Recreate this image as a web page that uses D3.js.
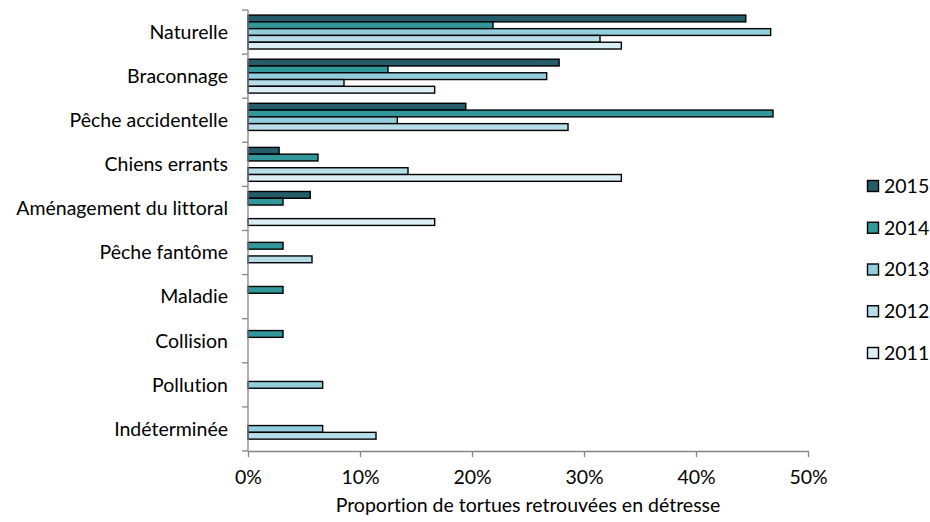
<!DOCTYPE html>
<html>
<head>
<meta charset="utf-8">
<script src="https://cdn.jsdelivr.net/npm/d3@7"></script>
<style>
  html, body { margin: 0; padding: 0; background: #fff; }
  svg { display: block; font-family: Lato, "Open Sans", sans-serif; font-variant-ligatures: none; }
</style>
</head>
<body>
<svg id="chart" width="930" height="522"></svg>
<script>
// Causes of distress, top to bottom
const categories = [
  "Naturelle", "Braconnage", "Pêche accidentelle", "Chiens errants",
  "Aménagement du littoral", "Pêche fantôme", "Maladie", "Collision",
  "Pollution", "Indéterminée"
];
// Years, drawn top to bottom inside each category
const years = ["2015", "2014", "2013", "2012", "2011"];
// Share of stranded turtles per cause (fraction), one array per year
const values2015 = [16/36, 10/36, 7/36, 1/36, 2/36, 0, 0, 0, 0, 0];
const values2014 = [7/32, 4/32, 15/32, 2/32, 1/32, 1/32, 1/32, 1/32, 0, 0];
const values2013 = [7/15, 4/15, 2/15, 0, 0, 0, 0, 0, 1/15, 1/15];
const values2012 = [11/35, 3/35, 10/35, 5/35, 0, 2/35, 0, 0, 0, 4/35];
const values2011 = [2/6, 1/6, 0, 2/6, 1/6, 0, 0, 0, 0, 0];
const xTicks = [0, 0.1, 0.2, 0.3, 0.4, 0.5];
const colors = ["#245c69", "#31979a", "#92cddc", "#b7dee8", "#daeef3"];

const seriesValues = [values2015, values2014, values2013, values2012, values2011];

const svg = d3.select("#chart");
const plotLeft = 248, plotRight = 808, plotTop = 10, plotBottom = 451;
const fontSize = 19.5;

const x = d3.scaleLinear().domain([0, 0.5]).range([plotLeft, plotRight]);
const y = d3.scaleBand().domain(categories).range([plotTop, plotBottom]).paddingInner(0).paddingOuter(0);
const inner = d3.scaleBand().domain(years).range([0, y.bandwidth()])
  .paddingInner(0).paddingOuter(0.75);

// Bars
const groups = svg.append("g").selectAll("g")
  .data(categories)
  .join("g")
  .attr("transform", d => `translate(0,${y(d)})`);

groups.selectAll("rect")
  .data((c, i) => years.map((yr, s) => ({ yr, s, v: seriesValues[s][i] })).filter(d => d.v > 0))
  .join("rect")
  .attr("x", x(0))
  .attr("y", d => inner(d.yr))
  .attr("width", d => x(d.v) - x(0))
  .attr("height", inner.bandwidth())
  .attr("fill", d => colors[d.s])
  .attr("stroke", "#000")
  .attr("stroke-width", 1.4);

// Vertical axis with tick marks at category boundaries
const axisColor = "#868686";
const yAxis = svg.append("g");
yAxis.append("line")
  .attr("x1", plotLeft).attr("x2", plotLeft).attr("y1", plotTop).attr("y2", plotBottom)
  .attr("stroke", axisColor).attr("stroke-width", 1.3);
yAxis.selectAll("line.tick")
  .data(d3.range(categories.length + 1))
  .join("line")
  .attr("class", "tick")
  .attr("x1", plotLeft - 6).attr("x2", plotLeft)
  .attr("y1", i => plotTop + i * y.step()).attr("y2", i => plotTop + i * y.step())
  .attr("stroke", axisColor).attr("stroke-width", 1.3);
yAxis.selectAll("text")
  .data(categories)
  .join("text")
  .attr("x", plotLeft - 20)
  .attr("y", d => y(d) + y.bandwidth() / 2)
  .attr("dy", "0.35em")
  .attr("text-anchor", "end")
  .attr("font-size", fontSize)
  .attr("fill", "#000")
  .text(d => d);

// Horizontal axis
const xAxis = svg.append("g")
  .attr("transform", `translate(0,${plotBottom})`)
  .call(d3.axisBottom(x).tickValues(xTicks).tickFormat(d3.format(".0%")).tickSizeInner(6).tickSizeOuter(0).tickPadding(13));
xAxis.select(".domain").attr("stroke", axisColor).attr("stroke-width", 1.3);
xAxis.selectAll(".tick line").attr("stroke", axisColor).attr("stroke-width", 1.3);
xAxis.selectAll(".tick text")
  .attr("font-size", fontSize).attr("fill", "#000")
  .attr("font-family", "Lato, 'Open Sans', sans-serif");

svg.append("text")
  .attr("x", (plotLeft + plotRight) / 2)
  .attr("y", 512)
  .attr("text-anchor", "middle")
  .attr("font-size", fontSize)
  .attr("fill", "#000")
  .text("Proportion de tortues retrouvées en détresse");

// Legend
const legend = svg.append("g").selectAll("g")
  .data(years)
  .join("g")
  .attr("transform", (d, i) => `translate(867,${186 + i * 41.75})`);
legend.append("rect")
  .attr("x", 0.5).attr("y", -5.5)
  .attr("width", 11).attr("height", 11)
  .attr("fill", (d, i) => colors[i])
  .attr("stroke", "#000").attr("stroke-width", 1.4);
legend.append("text")
  .attr("x", 17)
  .attr("y", 0)
  .attr("dy", "0.35em")
  .attr("font-size", fontSize)
  .attr("fill", "#000")
  .text(d => d);
</script>
</body>
</html>
